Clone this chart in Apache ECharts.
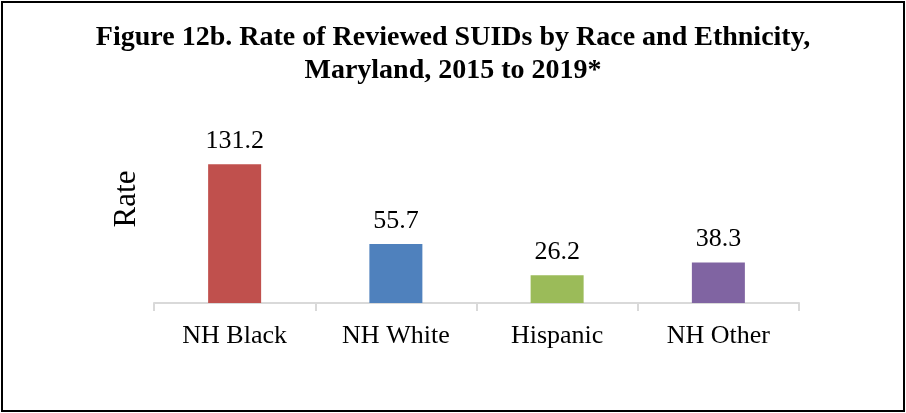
<!DOCTYPE html>
<html>
<head>
<meta charset="utf-8">
<script src="https://cdn.jsdelivr.net/npm/echarts@6/dist/echarts.min.js"></script>
<style>
html,body{margin:0;padding:0;background:#fff;}
#chart{width:906px;height:413px;}
</style>
</head>
<body>
<div id="chart"></div>
<script>
const categories = ['NH Black', 'NH White', 'Hispanic', 'NH Other'];
const rates = [131.2, 55.7, 26.2, 38.3];
const barColors = ['#C0504D', '#4F81BD', '#9BBB59', '#8064A2'];
const titleText = 'Figure 12b. Rate of Reviewed SUIDs by Race and Ethnicity,\nMaryland, 2015 to 2019*';
const yAxisName = 'Rate';

const serif = '"Liberation Serif", "Times New Roman", serif';
const chart = echarts.init(document.getElementById('chart'));
chart.setOption({
  animation: false,
  backgroundColor: '#fff',
  graphic: [{
    type: 'rect',
    shape: { x: 2, y: 2, width: 902, height: 409 },
    style: { fill: 'none', stroke: '#000', lineWidth: 2 },
    silent: true
  }],
  title: {
    text: titleText,
    left: 'center',
    top: 16,
    textStyle: {
      fontFamily: serif,
      fontWeight: 'bold',
      fontSize: 28,
      lineHeight: 33,
      color: '#000'
    }
  },
  grid: { left: 154, right: 107, top: 155, bottom: 110, containLabel: false },
  xAxis: {
    type: 'category',
    data: categories,
    axisLine: { show: true, lineStyle: { color: '#D9D9D9', width: 2 } },
    axisTick: { show: true, length: 8, lineStyle: { color: '#D9D9D9', width: 2 } },
    axisLabel: { fontFamily: serif, fontSize: 26, color: '#000', margin: 20 }
  },
  yAxis: {
    type: 'value',
    min: 0,
    max: 140,
    name: yAxisName,
    nameLocation: 'middle',
    nameGap: 12,
    nameRotate: 90,
    nameTextStyle: { fontFamily: serif, fontSize: 31, color: '#000', padding: [0, 0, 0, 60] },
    axisLine: { show: false },
    axisTick: { show: false },
    axisLabel: { show: false },
    splitLine: { show: false }
  },
  series: [{
    type: 'bar',
    barWidth: 53,
    data: rates.map((v, i) => ({ value: v, itemStyle: { color: barColors[i] } })),
    label: {
      show: true,
      position: 'top',
      distance: 10,
      fontFamily: serif,
      fontSize: 26,
      color: '#000',
      formatter: p => p.value.toFixed(1)
    }
  }]
});
</script>
</body>
</html>
